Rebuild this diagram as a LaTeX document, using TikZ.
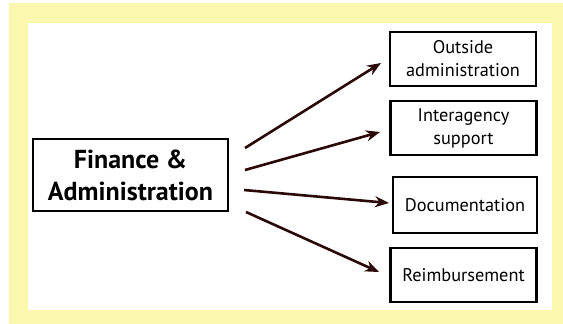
\documentclass[tikz,border=0pt]{standalone}
\usepackage{fontspec}
\setmainfont{PT Sans}
\usetikzlibrary{arrows.meta}
\definecolor{bgyellow}{HTML}{FBF7AE}
\definecolor{arrowcol}{HTML}{2A0808}
\tikzset{
  smallbox/.style={draw=black, line width=2.4pt, fill=white, minimum width=146pt, minimum height=54pt, align=center, font=\fontsize{18.3}{23}\selectfont, inner sep=0pt},
  bigbox/.style={draw=black, line width=2.4pt, fill=white, minimum width=195pt, minimum height=72pt, align=center, font=\fontsize{26}{32}\selectfont\bfseries, inner sep=0pt},
  link/.style={draw=arrowcol, line width=2.6pt, -{Stealth[length=14pt, width=11pt]}}
}
\begin{document}
\begin{tikzpicture}[x=1pt, y=-1pt]
\useasboundingbox (0,0) rectangle (563,324);
\fill[white] (0,0) rectangle (563,324);
\fill[bgyellow] (9,3) rectangle (563,324);
\fill[white] (28,23) rectangle (552,310);
\node[bigbox] (fin) at (130.5,175) {Finance \&\\Administration};
\node[smallbox] (out) at (463,59) {Outside\\administration};
\node[smallbox] (inter) at (463.5,128) {Interagency\\support};
\node[smallbox, minimum width=144pt, minimum height=56pt] (doc) at (465,205) {Documentation};
\node[smallbox] (reim) at (463.5,275) {Reimbursement};
\coordinate (s1) at (245,148);
\coordinate (s2) at (245,170);
\coordinate (s3) at (244,190);
\coordinate (s4) at (246,212);
\coordinate (t1) at (381,63);
\coordinate (t2) at (380,132);
\coordinate (t3) at (389,203);
\coordinate (t4) at (379,272);
\draw[link] (s1) -- (t1);
\draw[link] (s2) -- (t2);
\draw[link] (s3) -- (t3);
\draw[link] (s4) -- (t4);
\end{tikzpicture}
\end{document}
